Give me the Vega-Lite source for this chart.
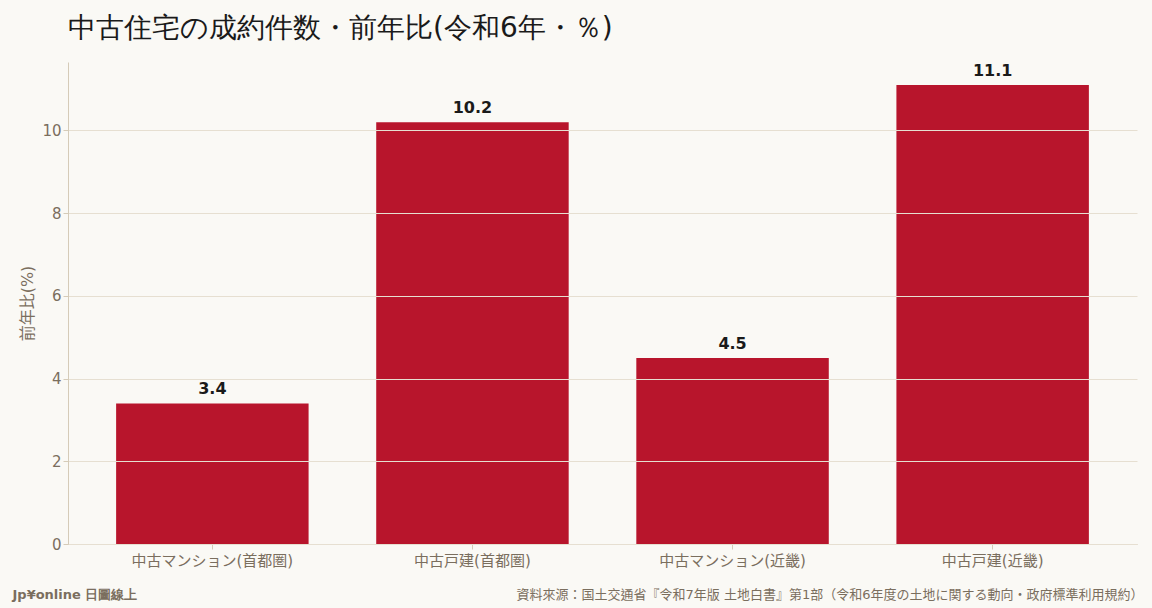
{
  "$schema": "https://vega.github.io/schema/vega-lite/v6.json",
  "width": 1069,
  "height": 482,
  "autosize": {"type": "none"},
  "padding": {"left": 68, "top": 62, "right": 15, "bottom": 64},
  "background": "#faf9f5",
  "title": {
    "text": "中古住宅の成約件数・前年比(令和6年・％)",
    "anchor": "start",
    "frame": "group",
    "font": "DejaVu Sans",
    "fontSize": 28,
    "fontWeight": "normal",
    "color": "#1a1a1a",
    "offset": 19
  },
  "data": {
    "values": [
      {"category": "中古マンション(首都圏)", "yoy": 3.4},
      {"category": "中古戸建(首都圏)", "yoy": 10.2},
      {"category": "中古マンション(近畿)", "yoy": 4.5},
      {"category": "中古戸建(近畿)", "yoy": 11.1}
    ]
  },
  "encoding": {
    "x": {
      "field": "category",
      "type": "nominal",
      "sort": null,
      "scale": {"paddingInner": 0.26, "paddingOuter": 0.185}
    },
    "y": {
      "field": "yoy",
      "type": "quantitative",
      "scale": {"domain": [0, 11.655], "nice": false},
      "axis": {
        "title": "前年比(%)",
        "titleFontSize": 16,
        "values": [0, 2, 4, 6, 8, 10],
        "zindex": 1
      }
    }
  },
  "layer": [
    {
      "mark": {"type": "bar", "color": "#b8152c"},
      "encoding": {
        "x": {
          "field": "category",
          "type": "nominal",
          "sort": null,
          "axis": {
            "title": "資料來源：国土交通省『令和7年版 土地白書』第1部（令和6年度の土地に関する動向・政府標準利用規約）",
            "labelAngle": 0,
            "titleAnchor": "end",
            "titleAlign": "right",
            "titleFont": "'DejaVu Sans', 'Noto Sans CJK TC'",
            "titleFontSize": 13,
            "titleFontWeight": "normal",
            "titleX": 1075,
            "titleY": 54,
            "titleBaseline": "alphabetic"
          }
        }
      }
    },
    {
      "mark": {
        "type": "text",
        "dy": -14,
        "font": "DejaVu Sans",
        "fontSize": 16,
        "fontWeight": "bold",
        "color": "#1a1a1a"
      },
      "encoding": {
        "x": {
          "field": "category",
          "type": "nominal",
          "sort": null,
          "axis": {
            "orient": "top",
            "labels": false,
            "ticks": false,
            "domain": false,
            "grid": false,
            "title": "Jp¥online 日圖線上",
            "titleAnchor": "start",
            "titleAlign": "left",
            "titleX": -56,
            "titleY": 536,
            "titleBaseline": "alphabetic",
            "titleFont": "DejaVu Sans",
            "titleFontSize": 13,
            "titleFontWeight": "bold"
          }
        },
        "text": {"field": "yoy", "type": "quantitative", "format": ".1f"}
      }
    }
  ],
  "resolve": {"axis": {"x": "independent"}},
  "config": {
    "font": "DejaVu Sans",
    "view": {"stroke": null},
    "axis": {
      "labelFont": "'DejaVu Sans', 'Noto Sans CJK JP'",
      "titleFont": "'DejaVu Sans', 'Noto Sans CJK JP'",
      "labelColor": "#7a6e5e",
      "titleColor": "#7a6e5e",
      "labelFontSize": 15,
      "titleFontSize": 14,
      "titleFontWeight": "normal",
      "domainColor": "#d5cbb8",
      "tickColor": "#d5cbb8",
      "gridColor": "#e6dfd1",
      "tickSize": 5
    },
    "axisX": {"grid": false, "labelPadding": 4},
    "axisY": {"grid": true, "domain": true, "titlePadding": 6}
  }
}
